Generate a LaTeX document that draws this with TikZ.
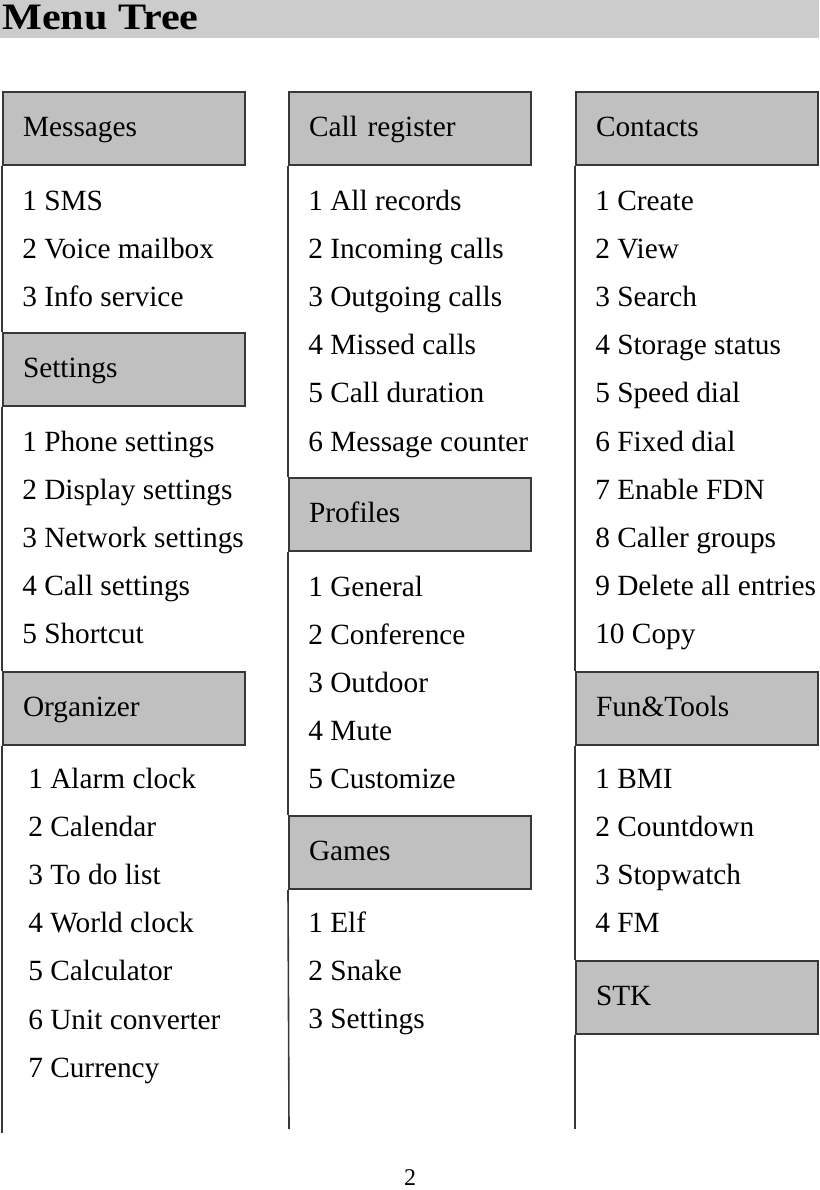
\documentclass[tikz,border=0pt]{standalone}
\usepackage{fontspec}
\usepackage{graphicx}
\setmainfont{Liberation Serif}
\usetikzlibrary{positioning}
\definecolor{boxgray}{HTML}{C0C0C0}
\definecolor{bargray}{HTML}{CCCCCC}
\definecolor{edgegray}{HTML}{383838}
\tikzset{
  menuhead/.style={draw=edgegray, fill=boxgray, line width=1.5pt, anchor=north west,
    minimum height=54.75pt, text width=151.5pt, inner xsep=15pt, align=left,
    text height=15pt, text depth=3pt, font=\fontsize{22}{24}\selectfont},
  menuitem/.style={anchor=base west, inner sep=0pt, font=\fontsize{22}{24}\selectfont},
  colline/.style={draw=edgegray, line width=1.2pt}
}
\begin{document}
\begin{tikzpicture}[x=0.75pt,y=-0.75pt]
  \useasboundingbox (0,0) rectangle (819,1190);
  % title bar
  \fill[bargray] (0,0) rectangle (819,38);
  \node[anchor=base west, inner sep=0pt, font=\fontsize{28}{30}\selectfont\bfseries] (title)
    at (2,29) {\scalebox{1.13}[1]{Menu Tree}};

  % column ends
  \coordinate (endA) at (2,1133);
  \coordinate (endB) at (289,1129);
  \coordinate (endC) at (575,1129);

  % first column
  \node[menuhead] (msg) at (2,91) {Messages};
  \node[menuhead] (setg) at (2,332) {Settings};
  \node[menuhead] (org) at (2,671) {Organizer};
  % second column
  \node[menuhead] (calls) at (288,91) {Call register};
  \node[menuhead] (prof) at (288,477) {Profiles};
  \node[menuhead] (games) at (288,815) {Games};
  % third column
  \node[menuhead] (cont) at (575,91) {Contacts};
  \node[menuhead] (fun) at (575,671) {Fun\&Tools};
  \node[menuhead] (stk) at (575,960) {STK};

  \draw[colline] (msg.south west) -- (setg.north west);
  \draw[colline] (setg.south west) -- (org.north west);
  \draw[colline] (org.south west) -- (endA);
  \draw[colline] (calls.south west) -- (prof.north west);
  \draw[colline] (prof.south west) -- (games.north west);
  \draw[colline] (games.south west) -- (endB);
  \draw[colline] (cont.south west) -- (fun.north west);
  \draw[colline] (fun.south west) -- (stk.north west);
  \draw[colline] (stk.south west) -- (endC);

  % items
  \foreach \t [count=\i from 0] in {1 SMS, 2 Voice mailbox, 3 Info service}
    \node[menuitem] (msg\i) at (22,210+48.2*\i) {\t};
  \foreach \t [count=\i from 0] in {1 Phone settings, 2 Display settings, 3 Network settings,
      4 Call settings, 5 Shortcut}
    \node[menuitem] (setg\i) at (22,451+48.2*\i) {\t};
  \foreach \t [count=\i from 0] in {1 Alarm clock, 2 Calendar, 3 To do list, 4 World clock,
      5 Calculator, 6 Unit converter, 7 Currency}
    \node[menuitem] (org\i) at (28,788+48.2*\i) {\t};

  \foreach \t [count=\i from 0] in {1 All records, 2 Incoming calls, 3 Outgoing calls,
      4 Missed calls, 5 Call duration, 6 Message counter}
    \node[menuitem] (calls\i) at (308,210+48.2*\i) {\t};
  \foreach \t [count=\i from 0] in {1 General, 2 Conference, 3 Outdoor, 4 Mute, 5 Customize}
    \node[menuitem] (prof\i) at (308,596+48.2*\i) {\t};
  \foreach \t [count=\i from 0] in {1 Elf, 2 Snake, 3 Settings}
    \node[menuitem] (games\i) at (308,932+48.2*\i) {\t};

  \foreach \t [count=\i from 0] in {1 Create, 2 View, 3 Search, 4 Storage status, 5 Speed dial,
      6 Fixed dial, 7 Enable FDN, 8 Caller groups, 9 Delete all entries, 10 Copy}
    \node[menuitem] (cont\i) at (595,210+48.2*\i) {\t};
  \foreach \t [count=\i from 0] in {1 BMI, 2 Countdown, 3 Stopwatch, 4 FM}
    \node[menuitem] (fun\i) at (595,788+48.2*\i) {\t};

  % page number
  \node[inner sep=0pt, font=\fontsize{18}{20}\selectfont] (page) at (410,1178) {2};
\end{tikzpicture}
\end{document}
